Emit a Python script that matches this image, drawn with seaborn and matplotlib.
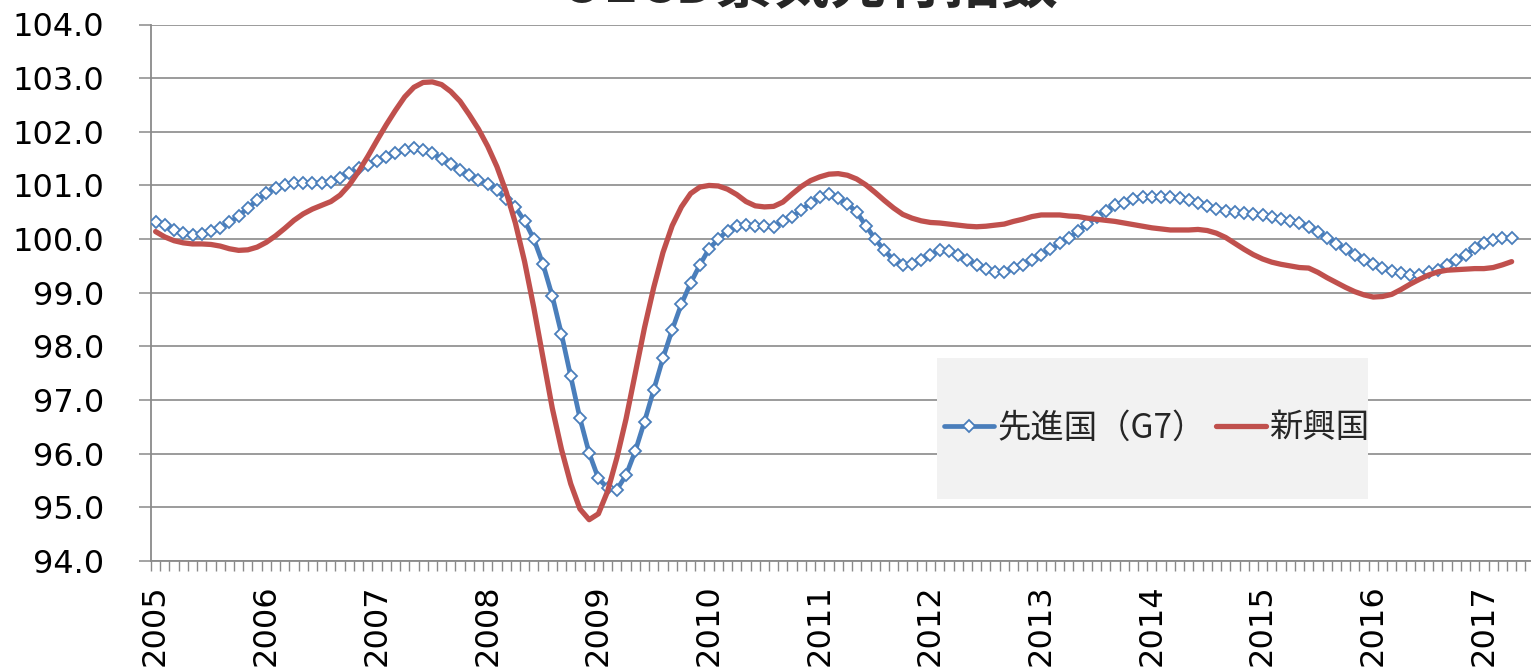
import matplotlib
matplotlib.use("Agg")
import matplotlib.pyplot as plt
import seaborn as sns
import pandas as pd
import numpy as np
from matplotlib.patches import Rectangle
from matplotlib.lines import Line2D

# ---- data -------------------------------------------------------------
months = pd.date_range("2005-01-01", periods=148, freq="MS")
year_labels = [str(y) for y in range(2005, 2018)]
title_text = "OECD景気先行指数"
series_names = ["先進国（G7）", "新興国"]

g7 = [100.32, 100.26, 100.17, 100.12, 100.08, 100.10, 100.16, 100.21, 100.31, 100.43,
      100.58, 100.72, 100.85, 100.96, 101.01, 101.04, 101.05, 101.04, 101.05, 101.07,
      101.14, 101.23, 101.32, 101.38, 101.46, 101.53, 101.60, 101.66, 101.69, 101.66,
      101.60, 101.50, 101.40, 101.29, 101.20, 101.11, 101.02, 100.91, 100.75, 100.59,
      100.34, 100.00, 99.53, 98.94, 98.23, 97.44, 96.66, 96.01, 95.54, 95.36,
      95.33, 95.60, 96.05, 96.60, 97.19, 97.78, 98.31, 98.79, 99.18, 99.52,
      99.82, 100.00, 100.16, 100.25, 100.27, 100.25, 100.25, 100.23, 100.33, 100.42,
      100.54, 100.68, 100.78, 100.84, 100.76, 100.66, 100.50, 100.25, 100.00, 99.79,
      99.61, 99.51, 99.53, 99.61, 99.71, 99.79, 99.78, 99.71, 99.61, 99.52,
      99.44, 99.38, 99.39, 99.46, 99.52, 99.61, 99.71, 99.81, 99.92, 100.02,
      100.15, 100.28, 100.42, 100.53, 100.63, 100.68, 100.75, 100.79, 100.79, 100.79,
      100.79, 100.76, 100.72, 100.67, 100.62, 100.56, 100.53, 100.50, 100.48, 100.47,
      100.44, 100.41, 100.38, 100.34, 100.30, 100.23, 100.14, 100.02, 99.91, 99.81,
      99.71, 99.61, 99.54, 99.46, 99.41, 99.36, 99.34, 99.34, 99.38, 99.43,
      99.52, 99.61, 99.71, 99.83, 99.92, 99.99, 100.02, 100.02]

emerging = [100.14, 100.04, 99.97, 99.93, 99.91, 99.91, 99.90, 99.87, 99.82, 99.79,
            99.80, 99.85, 99.94, 100.06, 100.20, 100.35, 100.47, 100.56, 100.63, 100.70,
            100.82, 101.01, 101.26, 101.54, 101.84, 102.13, 102.40, 102.65, 102.83, 102.92,
            102.93, 102.88, 102.75, 102.57, 102.32, 102.05, 101.73, 101.35, 100.88, 100.30,
            99.58, 98.72, 97.78, 96.85, 96.08, 95.44, 94.97, 94.77, 94.88, 95.30,
            95.92, 96.65, 97.50, 98.35, 99.10, 99.75, 100.25, 100.60, 100.85, 100.97,
            101.00, 100.99, 100.93, 100.83, 100.70, 100.62, 100.60, 100.61, 100.69, 100.84,
            100.98, 101.09, 101.16, 101.21, 101.22, 101.19, 101.12, 101.01, 100.87, 100.72,
            100.58, 100.46, 100.39, 100.34, 100.31, 100.30, 100.28, 100.26, 100.24, 100.23,
            100.24, 100.26, 100.28, 100.33, 100.37, 100.42, 100.45, 100.45, 100.45, 100.43,
            100.42, 100.39, 100.37, 100.35, 100.33, 100.30, 100.27, 100.24, 100.21, 100.19,
            100.17, 100.17, 100.17, 100.18, 100.16, 100.11, 100.03, 99.92, 99.81, 99.71,
            99.63, 99.57, 99.53, 99.50, 99.47, 99.46, 99.38, 99.28, 99.19, 99.10,
            99.02, 98.96, 98.92, 98.93, 98.97, 99.06, 99.16, 99.25, 99.33, 99.39,
            99.42, 99.43, 99.44, 99.45, 99.45, 99.47, 99.52, 99.58]

y_ticks = [94, 95, 96, 97, 98, 99, 100, 101, 102, 103, 104]

# ---- styling ----------------------------------------------------------
BLUE = "#4a7ebb"
RED = "#c0504d"
GRID = "#8a8a8a"

sns.set_theme(style="white")
plt.rcParams["font.family"] = ["DejaVu Sans", "Noto Sans CJK JP"]

W, H = 1531, 668
fig = plt.figure(figsize=(W / 100, H / 100), dpi=100)
ax = fig.add_axes([151 / W, (H - 561) / H, (W - 151) / W, (561 - 24.5) / H])

df = pd.DataFrame({"idx": np.arange(len(months)), "date": months,
                   "g7": g7, "em": emerging})

MS = 6.2
sns.lineplot(data=df, x="idx", y="g7", ax=ax, color=BLUE, linewidth=3.4,
             marker="D", markersize=MS, markerfacecolor="white",
             markeredgecolor=BLUE, markeredgewidth=1.3, zorder=3)
sns.lineplot(data=df, x="idx", y="em", ax=ax, color=RED, linewidth=3.8,
             zorder=4)

ax.set_xlim(-0.5, 149.1)
ax.set_ylim(94, 104)
ax.set_xlabel("")
ax.set_ylabel("")

ax.set_yticks(y_ticks)
ax.set_yticklabels([f"{v:.1f}" for v in y_ticks])
ax.yaxis.grid(True, color=GRID, linewidth=1.2)
ax.xaxis.grid(False)
ax.set_axisbelow(True)

year_pos = [i for i, d in enumerate(months) if d.month == 1]
ax.set_xticks(year_pos)
ax.set_xticklabels(year_labels, rotation=90, va="top", ha="center")
ax.set_xticks(np.arange(-0.5, 149, 1.0), minor=True)

ax.tick_params(axis="y", which="major", length=8.6, width=1.1, color=GRID,
               pad=25, labelsize=23, labelcolor="black", left=True)
ax.tick_params(axis="x", which="major", length=0, pad=17, labelsize=23,
               labelcolor="black", bottom=True)
ax.tick_params(axis="x", which="minor", length=7, width=1.0, color=GRID,
               bottom=True)

for s in ["top", "right"]:
    ax.spines[s].set_visible(False)
for s in ["left", "bottom"]:
    ax.spines[s].set_color(GRID)
    ax.spines[s].set_linewidth(1.3)

# legend background box
fig.patches.append(Rectangle((937 / W, (H - 499) / H), (1368 - 937) / W, 141 / H,
                             transform=fig.transFigure, facecolor="#f2f2f2",
                             edgecolor="none", zorder=1.5))
ax.set_zorder(1)
ax.patch.set_alpha(0)

handles = [Line2D([], [], color=BLUE, linewidth=3.4, marker="D", markersize=MS,
                  markerfacecolor="white", markeredgecolor=BLUE,
                  markeredgewidth=1.3),
           Line2D([], [], color=RED, linewidth=3.8)]
leg = fig.legend(handles, series_names, loc="center left",
                 bbox_to_anchor=(944 / W, 1 - 428 / H),
                 bbox_transform=fig.transFigure, ncol=2, frameon=False,
                 borderpad=0, borderaxespad=0, handlelength=1.5,
                 handletextpad=0.1, columnspacing=0.3, numpoints=1,
                 prop={"family": ["Noto Sans CJK JP"], "size": 24})
leg.set_zorder(5)

fig.text(809 / W, 1 - 3 / H, title_text, ha="center", va="baseline",
         fontsize=41, fontweight="bold",
         family=["Noto Sans CJK JP", "DejaVu Sans"])

fig.savefig("out.png", dpi=100)
